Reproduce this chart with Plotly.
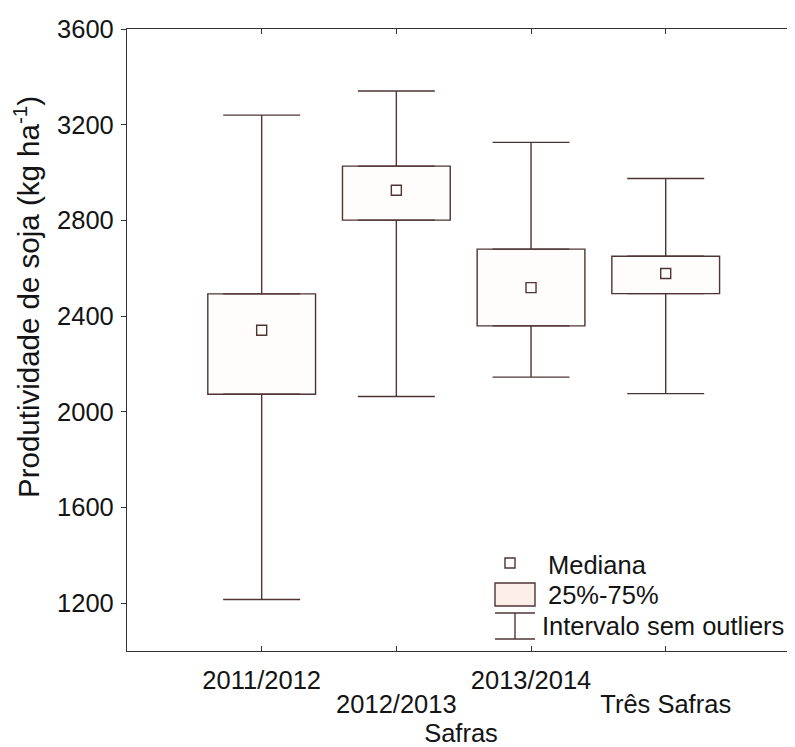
import plotly.graph_objects as go

# ---- data ----
safras = ["2011/2012", "2012/2013", "2013/2014", "Três Safras"]
q1 = [2073, 2801, 2359, 2494]
q3 = [2493, 3027, 2680, 2650]
median = [2341, 2926, 2519, 2578]
lower = [1215, 2064, 2145, 2076]
upper = [3240, 3341, 3126, 2975]
yticks = [1200, 1600, 2000, 2400, 2800, 3200, 3600]
labels_row1 = ["2011/2012", "2013/2014"]
labels_row2 = ["2012/2013", "Três Safras"]
legend_labels = ["Mediana", "25%-75%", "Intervalo sem outliers"]
x_title = "Safras"
y_title = "Produtividade de soja (kg ha<sup>-1</sup>)"

LINE = "#4f3434"
AX = "#333333"
FILL = "#fffdfc"
FONT = dict(family="Liberation Sans, Arial, sans-serif", size=25.5, color="#141414")

fig = go.Figure()

# boxes (25%-75%)
fig.add_trace(go.Bar(
    x=safras, y=[b - a for a, b in zip(q1, q3)], base=q1, width=0.8,
    marker=dict(color=FILL, line=dict(color=LINE, width=1.4)),
    showlegend=False, hoverinfo="skip"))

# upper whiskers
fig.add_trace(go.Scatter(
    x=safras, y=q3, mode="markers", xaxis="x2", marker=dict(size=1, opacity=0),
    error_y=dict(type="data", symmetric=False,
                 array=[u - b for u, b in zip(upper, q3)],
                 arrayminus=[0] * len(safras),
                 width=38.5, thickness=1.4, color=LINE),
    showlegend=False, hoverinfo="skip"))

# lower whiskers
fig.add_trace(go.Scatter(
    x=safras, y=q1, mode="markers", xaxis="x2", marker=dict(size=1, opacity=0),
    error_y=dict(type="data", symmetric=False,
                 array=[0] * len(safras),
                 arrayminus=[a - l for a, l in zip(q1, lower)],
                 width=38.5, thickness=1.4, color=LINE),
    showlegend=False, hoverinfo="skip"))

# medians
fig.add_trace(go.Scatter(
    x=safras, y=median, mode="markers", xaxis="x3",
    marker=dict(symbol="square-open", size=10, color=LINE, line=dict(width=1.4)),
    showlegend=False, hoverinfo="skip"))

xr = [-1, 3.96]
cat = dict(type="category", categoryorder="array", categoryarray=safras, range=xr,
           showgrid=False, zeroline=False, automargin=False)
# the page body adds an 8px offset; the figure is sized so the visible window is 795x747
fig.update_layout(
    width=787, height=739,
    margin=dict(l=119, r=0, t=21, b=96),
    paper_bgcolor="white", plot_bgcolor="white",
    font=FONT,
    showlegend=False,
    xaxis=dict(
        **cat, tickvals=safras, showticklabels=False,
        ticks="inside", ticklen=5, tickcolor=AX, tickwidth=1,
        showline=True, linecolor=AX, linewidth=1.3, mirror="ticks",
    ),
    xaxis2=dict(
        **cat, overlaying="x", anchor="y", side="bottom",
        tickvals=labels_row1, ticktext=labels_row1, ticks="", showline=False,
        ticklabelstandoff=11,
        title=dict(text=x_title, standoff=44, font=FONT),
    ),
    xaxis3=dict(
        **cat, overlaying="x", anchor="y", side="bottom",
        tickvals=labels_row2, ticktext=labels_row2, ticks="", showline=False,
        ticklabelstandoff=35,
    ),
    yaxis=dict(
        range=[1000, 3600], tickvals=yticks, automargin=False,
        ticks="outside", ticklen=5, tickcolor=AX, tickwidth=1,
        showline=True, linecolor=AX, linewidth=1.3, mirror=False,
        showgrid=False, zeroline=False, ticklabelstandoff=2,
    ),
)

# ---- paper helpers (plot area: 668 x 622 px; positions given in window pixels) ----
W, H, L, T = 668.0, 622.0, 127.0, 29.0
def px(x):
    return (x - L) / W
def py(y):
    return (T + H - y) / H

# y axis title (placed like the reference, above the plot's centre)
fig.add_annotation(text=y_title, xref="paper", yref="paper", x=px(26), y=py(297),
                   textangle=-90, xanchor="center", yanchor="middle", showarrow=False,
                   font=dict(family=FONT["family"], size=29.5, color=FONT["color"]))

# ---- legend drawn inside the plot ----
shapes = [
    dict(type="rect", xref="paper", yref="paper", x0=px(505), x1=px(515), y0=py(568), y1=py(558),
         line=dict(color=LINE, width=1.4), fillcolor="rgba(0,0,0,0)"),
    dict(type="rect", xref="paper", yref="paper", x0=px(495), x1=px(535), y0=py(606), y1=py(583),
         line=dict(color=LINE, width=1.4), fillcolor="#fcefe9"),
    dict(type="line", xref="paper", yref="paper", x0=px(495), x1=px(535), y0=py(613), y1=py(613),
         line=dict(color=LINE, width=1.4)),
    dict(type="line", xref="paper", yref="paper", x0=px(515), x1=px(515), y0=py(613), y1=py(639),
         line=dict(color=LINE, width=1.4)),
    dict(type="line", xref="paper", yref="paper", x0=px(495), x1=px(535), y0=py(639), y1=py(639),
         line=dict(color=LINE, width=1.4)),
]
fig.update_layout(shapes=shapes)

for lab, xx, yy in zip(legend_labels, [546, 546, 540], [565, 595, 626]):
    fig.add_annotation(text=lab, xref="paper", yref="paper", x=px(xx), y=py(yy),
                       xanchor="left", yanchor="middle", showarrow=False, font=FONT)

fig.write_html("out.html")
